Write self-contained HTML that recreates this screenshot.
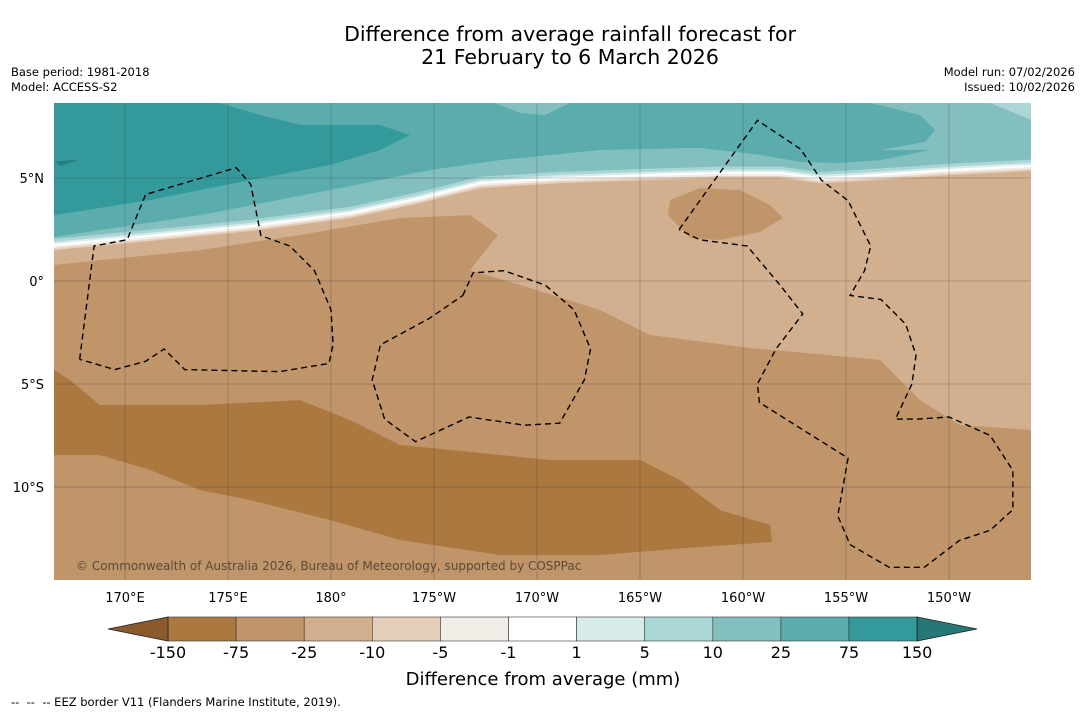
<!DOCTYPE html>
<html><head><meta charset="utf-8"><style>
body{margin:0;background:#fff;font-family:"DejaVu Sans","Liberation Sans",sans-serif;}
#wrap{position:relative;width:1085px;height:713px;overflow:hidden;background:#fff}
svg text{font-family:"DejaVu Sans","Liberation Sans",sans-serif;}
</style></head><body>
<div id="wrap">
<svg id="svg" width="1085" height="713" xmlns="http://www.w3.org/2000/svg">
<text x="570" y="41" font-size="20.5" text-anchor="middle" fill="#000">Difference from average rainfall forecast for</text>
<text x="570" y="64" font-size="20.5" text-anchor="middle" fill="#000">21 February to 6 March 2026</text>
<text x="11" y="76" font-size="11.5">Base period: 1981-2018</text>
<text x="11" y="91" font-size="11.5">Model: ACCESS-S2</text>
<text x="1075" y="76" font-size="11.5" text-anchor="end">Model run: 07/02/2026</text>
<text x="1075" y="91" font-size="11.5" text-anchor="end">Issued: 10/02/2026</text>
<defs><clipPath id="mapclip"><rect x="54" y="103" width="977" height="477"/></clipPath></defs>
<g id="map" clip-path="url(#mapclip)"></g>
<g id="axes"></g>
<g id="cbar"></g>
<text x="543" y="685" font-size="18" text-anchor="middle">Difference from average (mm)</text>
<text x="11" y="706" font-size="11.5" xml:space="preserve" style="white-space:pre">--  --  -- EEZ border V11 (Flanders Marine Institute, 2019).</text>
</svg>
</div>
<script>
// ---- data (lon 0-360 east, lat degrees) ----
const lonTicks = [170,175,180,185,190,195,200,205,210];
const lonLabels = ["170°E","175°E","180°","175°W","170°W","165°W","160°W","155°W","150°W"];
const latTicks = [5,0,-5,-10];
const latLabels = ["5°N","0°","5°S","10°S"];
const cbLevels = ["-150","-75","-25","-10","-5","-1","1","5","10","25","75","150"];
const cbColors = ["#ab7840","#c0956a","#d2b08f","#e5cfbb","#f3ede7","#ffffff","#d6ebea","#aad6d5","#84bfbf","#5aacad","#33999a"];
// band line (transition from dry to wet, ~0 mm)
const bandLon = [166.55,171.21,176.07,180.92,184.32,187.23,191.12,195.49,198.88,201.81,203.74,205.68,210.05,213.98];
const bandLat = [1.65,2.09,2.57,3.20,3.93,4.66,4.90,5.05,5.15,5.15,4.90,5.00,5.29,5.49];
// mid teal (25-75) lower boundary
const midLon = [166.55,173.64,179.95,184.81,188.20,193.06,197.91,200.83,202.77,204.71,206.65,209.08,213.98];
const midLat = [2.14,3.20,4.42,5.39,5.87,6.36,6.46,6.12,5.78,5.73,5.87,6.36,6.46];
// dark teal (>75)
const darkLon = [166.55,174.61,176.55,178.50,182.38,183.83,182.38,179.95,176.07,171.21,166.55];
const darkLat = [8.64,8.64,8.06,7.57,7.57,7.09,6.36,5.63,4.90,3.93,3.20];
// light teal patch top right (10-25)
const ltLon = [206.17,208.59,209.32,208.83,206.65,213.98,213.98];
const ltLat = [8.64,8.06,7.33,6.75,6.36,6.36,8.64];
const ltCornerLon = [211.99,213.98,213.98];
const ltCornerLat = [8.64,7.82,8.64];
const ltBumpLon = [187.96,189.17,190.39,191.60];
const ltBumpLat = [8.64,8.16,8.06,8.64];
// light tan region (-25..-10)
const tanLon = [213.98,210.53,208.59,206.65,200.34,195.49,193.06,189.17,186.75,188.11,186.75,183.35,178.50,173.64,166.55];
const tanLat = [-7.23,-6.99,-5.78,-3.83,-3.25,-2.62,-1.41,-0.19,0.53,2.23,3.20,3.06,2.23,1.50,0.78];
// medium brown blob inside tan
const blobLon = [196.46,197.91,199.85,201.31,201.94,200.83,198.88,197.43,196.36];
const blobLat = [3.93,4.51,4.42,3.69,3.06,2.38,1.99,2.09,3.20];
// deep brown band (-150..-75)
const deepLon = [166.55,167.33,168.79,173.64,178.50,180.92,183.35,185.78,190.63,195.00,196.94,198.88,201.31,201.41,197.91,193.06,188.20,183.35,179.95,176.07,173.64,171.21,168.79,166.55];
const deepLat = [-4.32,-4.81,-6.02,-6.02,-5.78,-6.75,-7.96,-8.20,-8.69,-8.69,-9.66,-11.12,-11.84,-12.67,-12.91,-13.30,-13.30,-12.57,-11.60,-10.63,-10.15,-9.17,-8.45,-8.45];
// EEZ borders
const eez1Lon=[167.8,168.5,170.1,171.0,175.4,176.1,176.6,178.0,179.2,180.0,180.1,179.9,177.5,172.9,171.9,171.0,169.5,167.8];
const eez1Lat=[-3.8,1.7,2.0,4.2,5.5,4.7,2.2,1.7,0.5,-1.4,-3.1,-4.0,-4.4,-4.3,-3.3,-3.9,-4.3,-3.8];
const eez2Lon=[186.4,186.9,188.4,190.4,191.8,192.6,192.3,191.1,189.4,186.7,184.1,182.6,182.0,182.4,184.8,186.4];
const eez2Lat=[-0.7,0.4,0.5,-0.2,-1.4,-3.3,-4.8,-6.9,-7.0,-6.6,-7.8,-6.7,-4.8,-3.1,-1.8,-0.7];
const eez3Lon=[196.9,200.7,202.8,203.8,205.1,206.2,205.9,205.2,206.7,207.9,208.4,208.2,207.4,208.5,210.0,212.0,213.1,213.1,212.0,210.5,208.8,207.1,205.2,204.6,205.1,200.8,200.7,201.6,202.9,201.8,200.2,197.9,196.9];
const eez3Lat=[2.5,7.8,6.4,4.9,3.9,1.7,0.5,-0.7,-0.9,-2.1,-3.6,-5.0,-6.7,-6.7,-6.6,-7.5,-9.2,-11.1,-12.1,-12.6,-13.9,-13.9,-12.8,-11.4,-8.6,-5.9,-5.0,-3.3,-1.6,-0.2,1.7,2.0,2.5];

// ---- axis functions ----
const X = lon => 125 + (lon-170)*20.6;
const Y = lat => 281 - lat*20.6;
const NS="http://www.w3.org/2000/svg";
const map=document.getElementById('map'), axes=document.getElementById('axes'), cbar=document.getElementById('cbar');
function mk(tag,attrs,parent){const e=document.createElementNS(NS,tag);for(const k in attrs)e.setAttribute(k,attrs[k]);parent.appendChild(e);return e;}
function pts(lons,lats,dLat){return lons.map((l,i)=>X(l)+','+Y(lats[i]+(dLat||0))).join(' ');}
function poly(lons,lats,fill,name){const p=mk('polygon',{points:pts(lons,lats),fill:fill},map);


return p;}
const N=8.64,S=-14.51,W=166.55,E=213.98;
const bg=mk('rect',{x:54,y:103,width:977,height:477,fill:'#c0956a'},map);


poly(tanLon,tanLat,'#d2b08f','tan-region').setAttribute('points', pts(bandLon,bandLat,0)+' '+pts(tanLon,tanLat));
poly(blobLon,blobLat,'#c0956a','brown-blob');
poly(deepLon,deepLat,'#ab7840','deep-brown-band');
const bandShifts=[-0.15,-0.05,0.05,0.15,0.25,0.4];
const bandFills=['#e5cfbb','#f3ede7','#ffffff','#d6ebea','#aad6d5','#84bfbf'];
bandShifts.forEach((s,k)=>{
  const p=mk('polygon',{points:X(W)+','+Y(N)+' '+pts(bandLon,bandLat,s)+' '+X(E)+','+Y(N),fill:bandFills[k]},map);
  
  
});
{const p=mk('polygon',{points:X(W)+','+Y(N)+' '+pts(midLon,midLat)+' '+X(E)+','+Y(N),fill:'#5aacad'},map);

}
poly(ltLon,ltLat,'#84bfbf','light-teal-patch');
poly(ltCornerLon,ltCornerLat,'#aad6d5','lighter-teal-corner');
poly(ltBumpLon,ltBumpLat,'#84bfbf','light-teal-bump');
poly(darkLon,darkLat,'#33999a','dark-teal-region');
{const p=mk('polygon',{points:X(166.55)+','+Y(5.8)+' '+X(167.8)+','+Y(5.9)+' '+X(166.9)+','+Y(5.6),fill:'#257f80'},map);

}
lonTicks.forEach(l=>{const g=mk('line',{x1:X(l),x2:X(l),y1:103,y2:580,stroke:'#333','stroke-width':0.5,'stroke-opacity':0.5},map);

});
latTicks.forEach(l=>{const g=mk('line',{x1:54,x2:1031,y1:Y(l),y2:Y(l),stroke:'#333','stroke-width':0.5,'stroke-opacity':0.5},map);

});
[[eez1Lon,eez1Lat],[eez2Lon,eez2Lat],[eez3Lon,eez3Lat]].forEach(e=>{
  const p=mk('polyline',{points:pts(e[0],e[1]),fill:'none',stroke:'#000','stroke-width':1.4,'stroke-dasharray':'6,4'},map);
  
  
});
{const t=mk('text',{x:76,y:570,'font-size':12,fill:'#5a4a38'},map);t.textContent='© Commonwealth of Australia 2026, Bureau of Meteorology, supported by COSPPac';

}
lonTicks.forEach((l,i)=>{const t=mk('text',{x:X(l),y:602,'font-size':13,'text-anchor':'middle'},axes);t.textContent=lonLabels[i];

});
latTicks.forEach((l,i)=>{const t=mk('text',{x:44,y:Y(l)+5,'font-size':13,'text-anchor':'end'},axes);t.textContent=latLabels[i];

});
const cx0=168, cw=68.1, cy=617, ch=24;
cbColors.forEach((c,i)=>{const r=mk('rect',{x:cx0+i*cw,y:cy,width:cw,height:ch,fill:c,stroke:'#333','stroke-width':0.6},cbar);

});
{const t=mk('polygon',{points:`${cx0},${cy} ${cx0},${cy+ch} 108,${cy+ch/2}`,fill:'#8a5a2c',stroke:'#222','stroke-width':0.8},cbar);


const xe=cx0+cbColors.length*cw;
const u=mk('polygon',{points:`${xe},${cy} ${xe},${cy+ch} 977,${cy+ch/2}`,fill:'#267777',stroke:'#222','stroke-width':0.8},cbar);

}
cbLevels.forEach((v,i)=>{const t=mk('text',{x:cx0+i*cw,y:658,'font-size':16,'text-anchor':'middle'},cbar);t.textContent=v;

});
</script>
</body></html>
